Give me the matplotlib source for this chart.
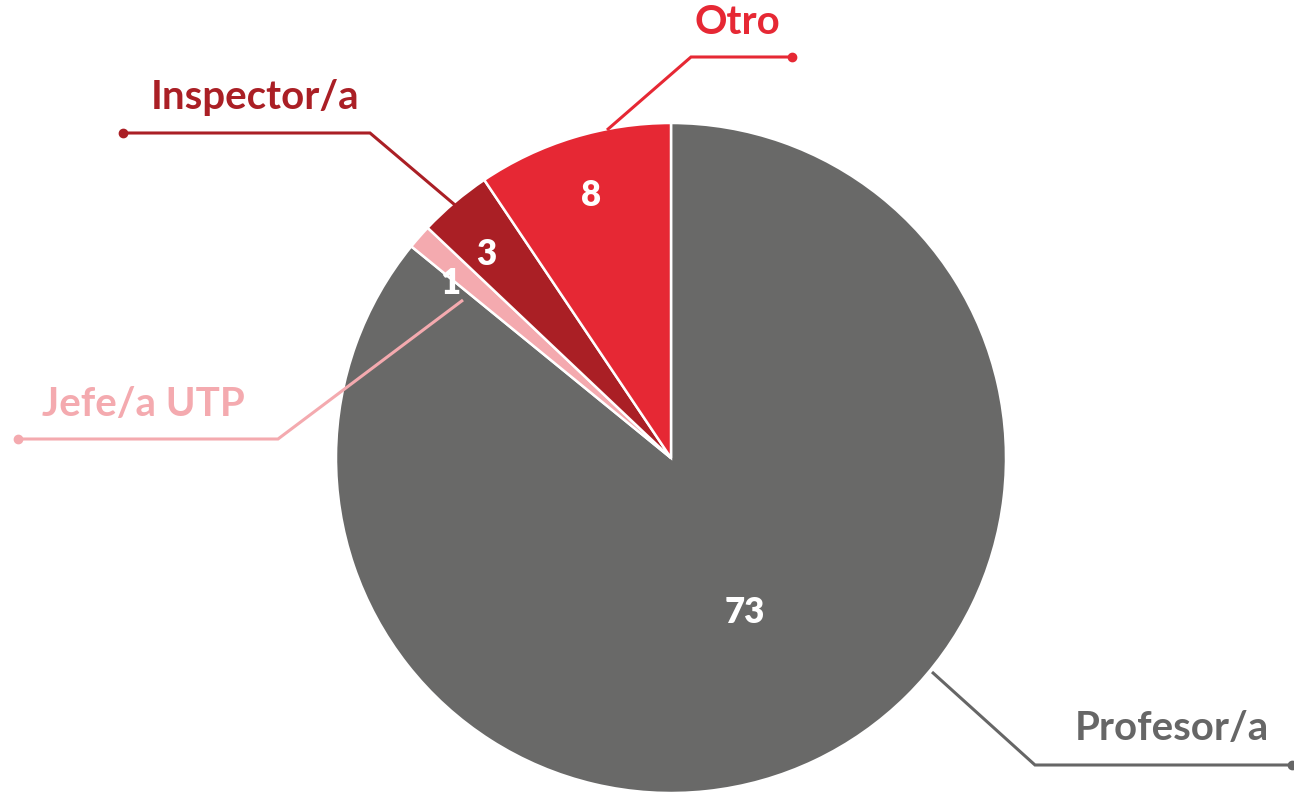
import numpy as np
import matplotlib
matplotlib.use("Agg")
import matplotlib.pyplot as plt

categories = ["Profesor/a", "Jefe/a UTP", "Inspector/a", "Otro"]
values = [73, 1, 3, 8]
colors = ["#696968", "#F4AAAF", "#AA1F25", "#E62834"]

W, H = 1294, 793
fig = plt.figure(figsize=(W / 100, H / 100), dpi=100)
ax = fig.add_axes([0, 0, 1, 1])

cx, cy, R = 671, 793 - 458, 335
wedges, _ = ax.pie(values, colors=colors, startangle=90, counterclock=False,
                   center=(cx, cy), radius=R,
                   wedgeprops=dict(edgecolor="white", linewidth=1.8))
ax.set_xlim(0, W)
ax.set_ylim(0, H)
ax.set_aspect("equal")
ax.axis("off")

font = "Lato"

# value labels inside wedges
val_dist = [0.51, 0.84, 0.82, 0.82]
val_shift = [0, 3, 2, 0]
for w, v, d, s in zip(wedges, values, val_dist, val_shift):
    ang = np.deg2rad((w.theta1 + w.theta2) / 2 + s)
    ax.text(cx + d * R * np.cos(ang), cy + d * R * np.sin(ang), str(v),
            color="white", fontsize=25, fontweight="heavy", family=font,
            ha="center", va="center")

# leader lines (pixel layout, y measured from top)
def P(x, y):
    return (x, H - y)

leaders = {
    "Profesor/a": dict(pts=[P(932, 672), P(1035, 765), P(1292, 765)],
                       text=P(1172, 728), color="#666666"),
    "Jefe/a UTP": dict(pts=[P(463, 300), P(278, 439), P(18, 439)],
                       text=P(143, 404), color="#F4AAAF"),
    "Inspector/a": dict(pts=[P(455, 205), P(370, 133), P(123, 133)],
                        text=P(255, 97), color="#AA1F25"),
    "Otro": dict(pts=[P(607, 130), P(691, 57), P(792, 57)],
                 text=P(737, 22), color="#E62834"),
}
for name in categories:
    L = leaders[name]
    xs, ys = zip(*L["pts"])
    ax.plot(xs, ys, color=L["color"], lw=2.2, solid_capstyle="butt",
            solid_joinstyle="miter", zorder=5)
    ax.plot(xs[-1], ys[-1], "o", color=L["color"], ms=6, zorder=5)
    ax.text(L["text"][0], L["text"][1], name, color=L["color"], fontsize=29,
            fontweight="bold", family=font, ha="center", va="center")

fig.savefig("out.png", dpi=100)
